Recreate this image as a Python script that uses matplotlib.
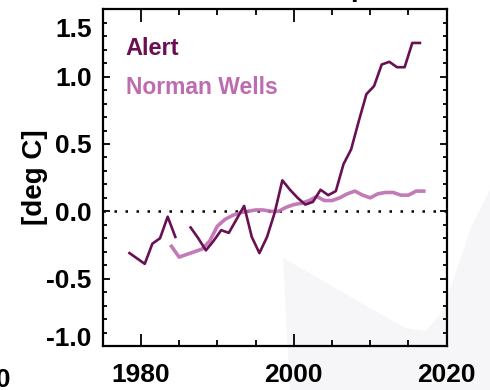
"""Annual temperature anomaly, Alert vs Norman Wells."""

import matplotlib
matplotlib.use("Agg")
import matplotlib.pyplot as plt
import matplotlib.transforms as mtransforms
from matplotlib.patches import Polygon
from matplotlib.ticker import MultipleLocator
import numpy as np

plt.rcParams["font.family"] = ["Liberation Sans", "DejaVu Sans"]
plt.rcParams["font.weight"] = "bold"
plt.rcParams["axes.labelweight"] = "bold"

# Alert annual means (plotted at mid-year), gap in 1985
alert_years = [1978.5, 1979.5, 1980.5, 1981.5, 1982.5, 1983.5, 1984.5, 1985.5,
               1986.5, 1987.5, 1988.5, 1989.5, 1990.5, 1991.5, 1992.5, 1993.5,
               1994.5, 1995.5, 1996.5, 1997.5, 1998.5, 1999.5, 2000.5, 2001.5,
               2002.5, 2003.5, 2004.5, 2005.5, 2006.5, 2007.5, 2008.5, 2009.5,
               2010.5, 2011.5, 2012.5, 2013.5, 2014.5, 2015.5, 2016.5]
alert_anom = [-0.31, -0.35, -0.39, -0.24, -0.20, -0.04, -0.19, np.nan,
              -0.12, -0.20, -0.29, -0.22, -0.14, -0.16, -0.06, 0.04,
              -0.19, -0.31, -0.19, -0.01, 0.23, 0.16, 0.10, 0.05,
              0.07, 0.16, 0.12, 0.15, 0.35, 0.46, 0.67, 0.87,
              0.93, 1.09, 1.11, 1.07, 1.07, 1.25, 1.25]

# Norman Wells (smoothed)
nw_years = list(range(1984, 2018))
nw_anom = [-0.26, -0.34, -0.32, -0.30, -0.28, -0.22, -0.11, -0.06, -0.03, -0.01,
           0.00, 0.01, 0.01, 0.00, 0.00, 0.03, 0.05, 0.06, 0.08, 0.11,
           0.08, 0.08, 0.10, 0.13, 0.15, 0.12, 0.10, 0.13, 0.14, 0.14,
           0.12, 0.12, 0.15, 0.15]

alert_col = "#6a1052"
nw_col = "#bd6cb0"

fig = plt.figure(figsize=(4.9, 3.9), dpi=100)

# faint watermark shape behind the plot, vertices in pixels from top-left
pix = mtransforms.Affine2D().scale(1 / 490, -1 / 390).translate(0, 1) + fig.transFigure
wm = Polygon([(283, 258), (405, 328), (425, 331), (440, 315), (455, 275),
              (472, 225), (490, 190), (490, 390), (290, 390)],
             closed=True, facecolor="#f6f6f8", edgecolor="none",
             transform=pix, zorder=-5)
fig.patches.append(wm)

ax = fig.add_axes([0.2096, 0.1128, 0.702, 0.8634])
ax.patch.set_alpha(0)

ax.axhline(0, color="black", lw=1.8, ls=(0, (1, 3.4)), zorder=1)
ax.plot(nw_years, nw_anom, color=nw_col, lw=2.6, alpha=0.9, zorder=2)
ax.plot(alert_years, alert_anom, color=alert_col, lw=1.9, zorder=3)

ax.set_xlim(1975, 2020)
ax.set_ylim(-1.0, 1.5)
ax.set_xticks([1980, 2000, 2020])
ax.set_yticks([-1.0, -0.5, 0.0, 0.5, 1.0, 1.5])
ax.set_yticklabels(["-1.0", "-0.5", "0.0", "0.5", "1.0", "1.5"])
ax.xaxis.set_minor_locator(MultipleLocator(5))
ax.yaxis.set_minor_locator(MultipleLocator(0.1))
ax.tick_params(axis="both", which="both", direction="in", top=True, right=True,
               width=1.4, color="#111111")
ax.tick_params(axis="x", which="major", length=9, pad=12, labelsize=19)
ax.tick_params(axis="x", which="minor", length=4)
ax.tick_params(axis="y", which="major", length=5, pad=8, labelsize=19)
ax.tick_params(axis="y", which="minor", length=2.6)
for sp in ax.spines.values():
    sp.set_linewidth(1.6)

ax.set_ylabel("[deg C]", fontsize=20)
ax.yaxis.set_label_coords(-0.16, 0.5)

# end labels sit inside the frame
labels = ax.get_yticklabels()
labels[-1].set_transform(labels[-1].get_transform()
                         + mtransforms.ScaledTranslation(0, -18 / 100, fig.dpi_scale_trans))
labels[0].set_transform(labels[0].get_transform()
                        + mtransforms.ScaledTranslation(0, 10 / 100, fig.dpi_scale_trans))

ax.text(0.065, 0.865, "Alert", color=alert_col, fontsize=17, transform=ax.transAxes)
ax.text(0.068, 0.748, "Norman Wells", color=nw_col, fontsize=16.5, transform=ax.transAxes)

# neighbouring panel spill-over
fig.text(11 / 490, 1 - 387 / 390, "2020", fontsize=19, ha="right", va="baseline")
fig.text(359 / 490, 1.0 + 4 / 390, "p", fontsize=20, ha="center", va="baseline")

fig.savefig("out.png", dpi=100)
